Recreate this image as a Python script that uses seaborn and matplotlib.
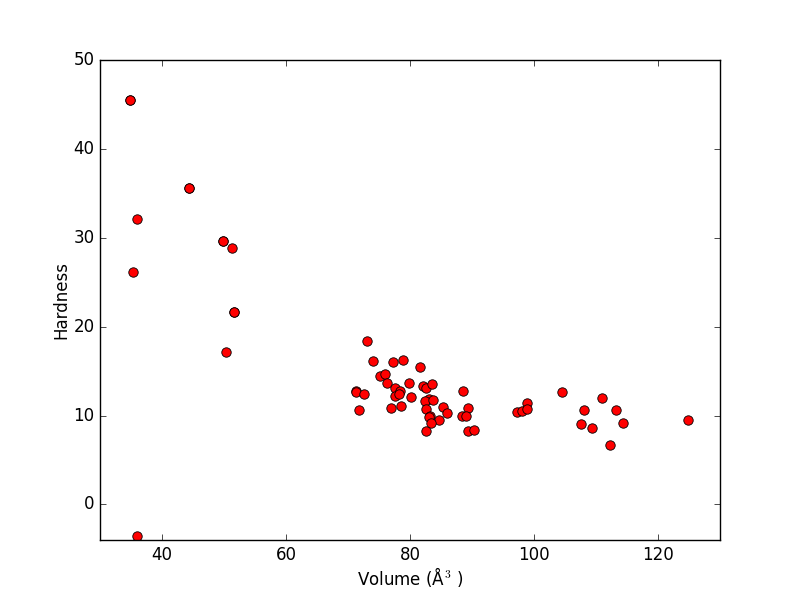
import matplotlib
matplotlib.use("Agg")
import matplotlib.pyplot as plt
import pandas as pd
import seaborn as sns

# Volumen y dureza
volume = [34.8, 34.8, 44.4, 44.4, 36.0, 35.3, 49.8, 49.8, 51.3, 51.6, 51.6, 50.3, 36.0,
          73.1, 74.1, 77.3, 78.9, 81.6, 75.2, 75.9, 76.3, 79.9, 82.1, 82.6, 83.5,
          71.3, 71.3, 72.6, 77.5, 78.4, 77.5, 78.3, 80.2, 83.0, 82.4, 83.7, 88.6,
          71.7, 77.0, 78.6, 82.5, 85.4, 86.0, 89.4, 83.2, 83.0, 84.6, 83.4, 88.4,
          89.0, 82.6, 89.4, 90.4, 97.3, 98.0, 98.8, 98.8, 104.5, 111.0, 108.1,
          113.2, 107.6, 109.4, 114.4, 112.3, 124.9]
hardness = [45.5, 45.5, 35.6, 35.6, 32.1, 26.2, 29.6, 29.6, 28.9, 21.7, 21.7, 17.2, -3.5,
            18.4, 16.1, 16.0, 16.3, 15.5, 14.4, 14.7, 13.7, 13.7, 13.3, 13.1, 13.6,
            12.8, 12.6, 12.4, 13.1, 12.8, 12.2, 12.4, 12.1, 11.9, 11.6, 11.7, 12.8,
            10.6, 10.8, 11.1, 10.7, 11.0, 10.3, 10.9, 10.0, 9.8, 9.5, 9.2, 9.9,
            10.0, 8.3, 8.3, 8.4, 10.4, 10.5, 11.4, 10.7, 12.7, 12.0, 10.6,
            10.6, 9.1, 8.6, 9.2, 6.7, 9.5]

df = pd.DataFrame({"Volume": volume, "Hardness": hardness})

plt.style.use("classic")
fig, ax = plt.subplots(figsize=(8, 6), dpi=100)
fig.patch.set_facecolor("white")

sns.scatterplot(data=df, x="Volume", y="Hardness", color="red", edgecolor="black",
                linewidth=0.6, s=46, ax=ax)

ax.set_xlim(30, 130)
ax.set_ylim(-4, 50)
ax.set_xlabel("Volume (Å$^3$ )", labelpad=1)
ax.set_ylabel("Hardness", labelpad=2)

fig.savefig("out.png", dpi=100, facecolor="white")
